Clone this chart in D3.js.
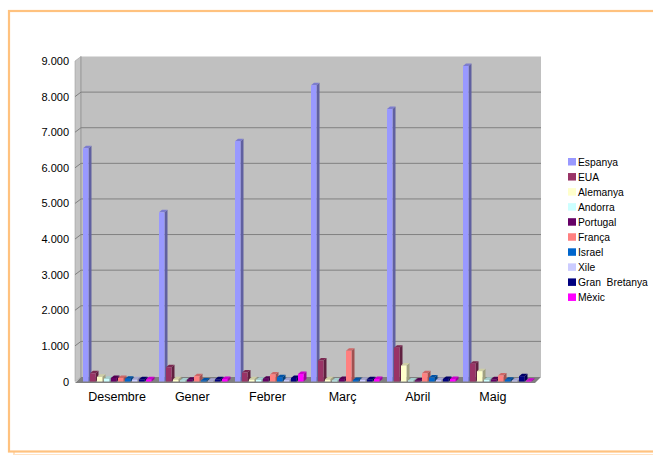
<!DOCTYPE html>
<html>
<head>
<meta charset="utf-8">
<script src="https://cdn.jsdelivr.net/npm/d3@7"></script>
<style>
  body { margin: 0; background: #fff; }
  svg { display: block; font-family: Arial, "Liberation Sans", sans-serif; }
</style>
</head>
<body>
<div id="chart"></div>
<script>
// mesos (categories)
const mesos = ["Desembre", "Gener", "Febrer", "Març", "Abril", "Maig"];

// valors per país
const espanya      = [6550, 4750, 6750, 8320, 7650, 8860];
const eua          = [230, 400, 250, 590, 950, 500];
const alemanya     = [130, 60, 60, 60, 450, 290];
const andorra      = [80, 30, 50, 30, 30, 50];
const portugal     = [100, 50, 80, 70, 30, 60];
const franca       = [100, 150, 200, 860, 230, 170];
const israel       = [80, 30, 120, 40, 110, 50];
const xile         = [60, 20, 40, 50, 40, 30];
const granBretanya = [60, 60, 100, 60, 70, 150];
const mexic        = [60, 70, 210, 70, 70, 20];

const paisos = ["Espanya", "EUA", "Alemanya", "Andorra", "Portugal", "França", "Israel", "Xile", "Gran  Bretanya", "Mèxic"];
const colors = ["#9999ff", "#993366", "#ffffcc", "#ccffff", "#660066", "#ff8080", "#0066cc", "#ccccff", "#000080", "#ff00ff"];
const valors = [espanya, eua, alemanya, andorra, portugal, franca, israel, xile, granBretanya, mexic];

const yTicks = [0, 1000, 2000, 3000, 4000, 5000, 6000, 7000, 8000, 9000];

const W = 653, H = 455;
const svg = d3.select("#chart").append("svg").attr("width", W).attr("height", H);

// marc taronja amb ombra
svg.append("rect").attr("x", 14).attr("y", 14).attr("width", 660).attr("height", 441)
  .attr("fill", "none").attr("stroke", "#ffe2c4").attr("stroke-width", 2);
svg.append("rect").attr("x", 9).attr("y", 11).attr("width", 660).attr("height", 440.5)
  .attr("fill", "#fff").attr("stroke", "#ffc27f").attr("stroke-width", 2.2);

// escales
const left = 75, right = 535, dx = 6, dy = 4.5;
const y = d3.scaleLinear().domain([0, 9000]).range([381.5, 61]);
const x0 = d3.scaleBand().domain(mesos).range([79, 535]);
const x1 = d3.scaleBand().domain(paisos).range([4, 74]);
const xLabel = d3.scaleBand().domain(mesos).range([79.5, 530.5]);

const locale = d3.formatLocale({ decimal: ",", thousands: ".", grouping: [3], currency: ["", "€"] });
const fmt = locale.format(",d");

// paret del fons
const g = svg.append("g");
g.append("polygon")
  .attr("points", [[left, y(9000)], [left + dx, y(9000) - dy], [left + dx, y(0) - dy], [left, y(0)]].join(" "))
  .attr("fill", "#c4c4c4").attr("stroke", "#a0a0a0").attr("stroke-width", 0.6);
g.append("rect")
  .attr("x", left + dx).attr("y", y(9000) - dy)
  .attr("width", right - left).attr("height", y(0) - y(9000))
  .attr("fill", "#c0c0c0");
g.append("line")
  .attr("x1", left + dx).attr("x2", left + dx).attr("y1", y(9000) - dy).attr("y2", y(0) - dy)
  .attr("stroke", "#999").attr("stroke-width", 1);

// línies de graella
g.selectAll(".grid").data(yTicks.filter(d => d > 0 && d < 9000)).join("polyline")
  .attr("points", d => [[left, y(d)], [left + dx, y(d) - dy], [right + dx, y(d) - dy]].join(" "))
  .attr("fill", "none").attr("stroke", "#808080").attr("stroke-width", 1);

// terra
g.append("polygon")
  .attr("points", [[left, y(0) + 1.5], [left + dx, y(0) - dy], [right + dx, y(0) - dy], [right, y(0) + 1.5]].join(" "))
  .attr("fill", "#808080");

// eix Y
const yAxis = svg.append("g").attr("transform", `translate(${left - 6},0)`)
  .call(d3.axisLeft(y).tickValues(yTicks).tickFormat(fmt).tickSize(0).tickPadding(0));
yAxis.select(".domain").remove();
yAxis.selectAll("text").attr("font-size", 11).attr("fill", "#000")
  .attr("font-family", "Arial, 'Liberation Sans', sans-serif");

// eix X (etiquetes)
const xAxis = svg.append("g").attr("transform", "translate(0,392)")
  .call(d3.axisBottom(xLabel).tickSize(0).tickPadding(0));
xAxis.select(".domain").remove();
xAxis.selectAll("text").attr("font-size", 12.5).attr("fill", "#000")
  .attr("font-family", "Arial, 'Liberation Sans', sans-serif");

// barres 3D
const bw = 5.5, bdx = 3, bdy = 2.5;
const bars = [];
mesos.forEach((m, i) => {
  paisos.forEach((p, j) => {
    bars.push({ mes: m, pais: p, v: valors[j][i], c: colors[j] });
  });
});

const y0 = y(0);
const bar = svg.append("g").selectAll("g").data(bars).join("g");
bar.append("polygon") // costat
  .attr("points", d => {
    const bx = x0(d.mes) + x1(d.pais), by = y(d.v);
    return [[bx + bw, by], [bx + bw + bdx, by - bdy], [bx + bw + bdx, y0 - bdy], [bx + bw, y0]].join(" ");
  })
  .attr("fill", d => d3.color(d.c).darker(1.3));
bar.append("polygon") // sostre
  .attr("points", d => {
    const bx = x0(d.mes) + x1(d.pais), by = y(d.v);
    return [[bx, by], [bx + bdx, by - bdy], [bx + bw + bdx, by - bdy], [bx + bw, by]].join(" ");
  })
  .attr("fill", d => d3.color(d.c).darker(0.6));
bar.append("rect") // cara
  .attr("x", d => x0(d.mes) + x1(d.pais))
  .attr("y", d => y(d.v))
  .attr("width", bw)
  .attr("height", d => y0 - y(d.v))
  .attr("fill", d => d.c);

// llegenda
const leg = svg.append("g").attr("transform", "translate(568,162)");
const item = leg.selectAll("g").data(paisos).join("g")
  .attr("transform", (d, i) => `translate(0,${i * 15.05})`);
item.append("rect").attr("x", 0).attr("y", -4).attr("width", 8).attr("height", 7.5)
  .attr("fill", (d, i) => colors[i]);
item.append("text").attr("x", 10).attr("y", 0).attr("dy", "0.35em")
  .attr("font-size", 10.3).attr("fill", "#000")
  .style("white-space", "pre")
  .text(d => d);
</script>
</body>
</html>
